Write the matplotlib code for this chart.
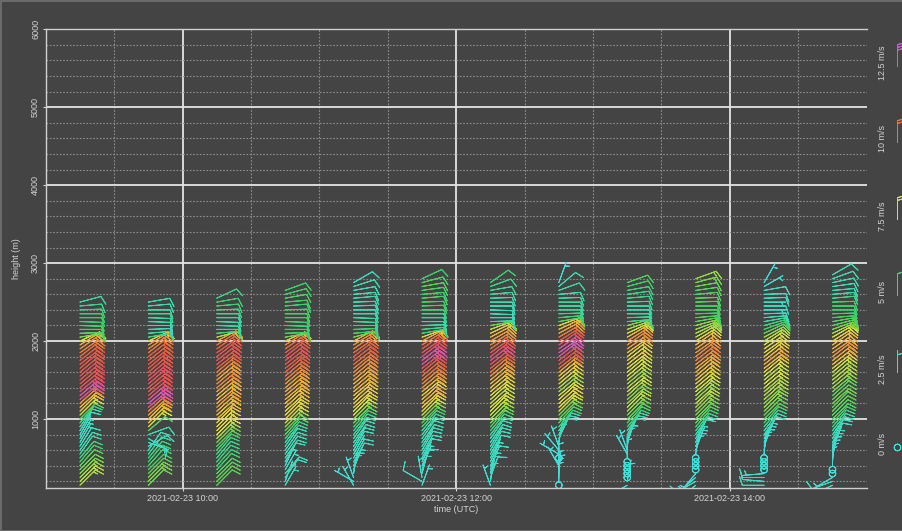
import datetime as dt

import matplotlib

matplotlib.use("Agg")
import matplotlib.dates as mdates
import matplotlib.pyplot as plt
import numpy as np
from matplotlib.colors import LinearSegmentedColormap, Normalize
from matplotlib.ticker import MultipleLocator

plt.rcParams["font.family"] = ["Liberation Sans", "DejaVu Sans"]

DAY = dt.datetime(2021, 2, 23)

# range gates (m)
HEIGHTS = [150, 200, 250, 300, 350, 400, 450, 500, 550, 600,
           650, 700, 750, 800, 850, 900, 950, 1000, 1050, 1100,
           1150, 1200, 1250, 1300, 1350, 1400, 1450, 1500, 1550, 1600,
           1650, 1700, 1750, 1800, 1850, 1900, 1950, 2000, 2050, 2100,
           2150, 2200, 2250, 2300, 2350, 2400, 2450, 2500, 2550, 2600,
           2650, 2700, 2750, 2800, 2850]

# profile times (UTC)
TIMES = ["09:15", "09:45", "10:15", "10:45", "11:15", "11:45",
         "12:15", "12:45", "13:15", "13:45", "14:15", "14:45"]

# wind speed (m/s) and direction (deg, from) per profile, bottom gate upward
SPD_0915 = [7.0, 7.2, 6.8, 6.5, 6.2, 6.0, 5.6, 5.2, 4.6, 4.2,
            3.9, 3.6, 3.5, 3.6, 3.9, 4.4, 5.2, 6.0, 7.4, 8.2,
            8.8, 9.5, 11.8, 12.2, 11.6, 11.0, 10.8, 11.0, 11.2, 10.8,
            10.6, 10.8, 10.5, 10.2, 9.8, 9.4, 8.8, 7.6, 6.4, 6.0,
            5.8, 5.8, 5.6, 5.5, 5.4, 5.2, 5.0, 4.6]
DIR_0915 = [45, 45, 45, 45, 45, 42, 40, 40, 35, 35,
            32, 30, 30, 30, 32, 35, 40, 45, 45, 45,
            48, 48, 50, 50, 50, 50, 50, 50, 50, 50,
            50, 52, 52, 52, 55, 55, 58, 65, 80, 88,
            90, 92, 92, 90, 90, 88, 85, 75]

SPD_0945 = [6.2, 6.5, 6.4, 6.0, 5.8, 5.6, 5.4, 5.2, 4.8, 4.2,
            3.8, 3.6, 3.8, 4.4, 6.0, 7.6, 8.4, 8.8, 9.2, 9.8,
            12.0, 12.4, 11.8, 11.2, 11.0, 10.8, 11.2, 11.4, 11.0, 10.6,
            10.8, 10.6, 10.4, 10.4, 10.0, 9.6, 9.2, 8.0, 5.0, 4.6,
            4.4, 4.2, 4.4, 4.6, 4.8, 4.6, 4.4, 4.4]
DIR_0945 = [45, 45, 45, 45, 45, 42, 40, 40, 38, 35,
            60, 110, 120, 70, 50, 45, 45, 45, 48, 48,
            50, 50, 50, 50, 50, 50, 50, 50, 50, 50,
            50, 52, 52, 52, 52, 55, 58, 65, 80, 85,
            88, 90, 92, 92, 90, 90, 85, 80]

SPD_1015 = [6.0, 6.2, 6.0, 5.8, 5.6, 5.4, 5.2, 5.0, 5.2, 5.6,
            6.0, 6.4, 7.0, 7.6, 8.0, 7.8, 8.2, 8.6, 8.4, 8.8,
            9.2, 9.0, 8.6, 8.8, 9.2, 9.6, 9.4, 9.0, 9.4, 10.0,
            10.4, 10.8, 11.0, 10.8, 10.6, 10.4, 10.0, 9.2, 7.0, 5.2,
            4.8, 4.6, 4.4, 4.6, 4.8, 5.0, 5.2, 5.4, 5.0]
DIR_1015 = [45, 45, 45, 45, 42, 42, 40, 40, 40, 42,
            45, 45, 45, 45, 45, 45, 45, 48, 48, 48,
            48, 50, 50, 50, 50, 50, 50, 50, 50, 50,
            52, 52, 52, 52, 55, 55, 58, 62, 75, 85,
            90, 92, 92, 90, 90, 88, 85, 80, 65]

SPD_1045 = [3.6, 3.2, 3.8, 4.0, 3.6, 3.4, 3.8, 4.2, 4.0, 4.2,
            4.4, 4.6, 5.2, 5.8, 6.2, 6.8, 7.6, 8.0, 7.8, 8.2,
            8.6, 8.4, 8.8, 9.0, 8.8, 9.2, 9.4, 9.8, 10.0, 10.4,
            10.6, 10.8, 11.0, 10.8, 10.6, 10.2, 9.6, 8.4, 6.2, 5.6,
            5.4, 5.2, 5.4, 5.6, 5.8, 5.6, 5.4, 5.6, 5.8, 5.6,
            5.4]
DIR_1045 = [30, 20, 35, 40, 30, 25, 30, 35, 35, 35,
            35, 38, 40, 42, 45, 45, 45, 45, 45, 48,
            48, 48, 50, 50, 50, 50, 50, 50, 50, 50,
            52, 52, 52, 52, 55, 55, 58, 65, 80, 88,
            90, 92, 92, 90, 90, 88, 85, 85, 80, 75,
            70]

SPD_1115 = [3.6, 3.0, 2.6, 3.2, 3.6, 3.4, 3.8, 4.0, 3.6, 3.8,
            4.0, 4.2, 4.4, 4.6, 5.0, 5.6, 6.2, 6.6, 7.4, 7.8,
            8.0, 8.4, 8.2, 8.6, 8.8, 9.0, 8.8, 9.2, 9.4, 9.6,
            9.8, 10.2, 10.4, 10.6, 10.2, 9.8, 9.4, 8.8, 6.4, 5.6,
            5.4, 5.0, 4.8, 4.6, 4.4, 4.2, 4.0, 4.2, 4.4, 4.2,
            4.0, 4.2, 3.8]
DIR_1115 = [330, 300, 340, 10, 20, 25, 30, 30, 30, 30,
            32, 35, 35, 38, 40, 42, 45, 45, 45, 45,
            48, 48, 48, 50, 50, 50, 50, 50, 50, 50,
            52, 52, 52, 52, 55, 55, 58, 62, 75, 85,
            88, 90, 92, 92, 90, 90, 88, 88, 85, 85,
            80, 72, 60]

SPD_1145 = [3.4, 3.8, 3.2, 3.6, 3.8, 3.4, 3.6, 3.8, 4.0, 3.8,
            4.0, 4.2, 4.4, 4.2, 4.8, 5.6, 6.0, 6.6, 7.4, 8.0,
            8.4, 8.8, 8.6, 8.2, 8.8, 9.4, 9.6, 10.0, 10.2, 10.6,
            11.4, 12.0, 12.2, 11.6, 11.0, 10.6, 10.0, 9.0, 8.0, 5.4,
            5.0, 4.6, 4.4, 4.6, 4.8, 5.2, 5.4, 5.6, 5.8, 5.6,
            5.8, 6.0, 5.8, 5.4]
DIR_1145 = [20, 300, 350, 15, 20, 25, 25, 28, 30, 30,
            32, 35, 35, 38, 40, 42, 45, 45, 45, 45,
            48, 48, 48, 50, 50, 50, 50, 50, 50, 50,
            52, 52, 52, 52, 55, 55, 58, 62, 70, 80,
            85, 88, 90, 90, 90, 90, 88, 88, 85, 85,
            82, 80, 75, 65]

SPD_1215 = [3.0, 3.4, 3.8, 3.2, 3.6, 3.8, 3.4, 3.6, 3.8, 4.0,
            4.2, 4.0, 4.4, 4.8, 5.2, 5.8, 6.4, 6.8, 7.2, 7.4,
            7.6, 7.2, 7.6, 7.8, 8.0, 8.4, 8.8, 9.0, 9.4, 9.8,
            10.4, 11.2, 11.8, 11.4, 10.8, 10.2, 9.6, 9.2, 8.8, 8.2,
            7.2, 6.0, 4.6, 4.2, 4.0, 3.8, 4.0, 4.2, 4.4, 4.6,
            4.8, 5.0, 5.4]
DIR_1215 = [340, 10, 20, 15, 20, 25, 25, 28, 30, 30,
            32, 35, 35, 38, 40, 42, 45, 45, 45, 45,
            48, 48, 48, 50, 50, 50, 50, 50, 50, 50,
            52, 52, 52, 52, 55, 55, 58, 60, 62, 65,
            70, 80, 88, 90, 92, 92, 90, 90, 88, 85,
            80, 70, 55]

SPD_1245 = [0.6, 2.0, 2.2, 2.0, 2.4, 2.6, 2.2, 0.8, 3.0, 2.8,
            3.2, 3.4, 3.8, 4.0, 4.4, 5.4, 5.8, 6.2, 6.6, 7.4,
            7.8, 8.0, 7.8, 7.4, 6.8, 7.2, 7.8, 8.2, 8.4, 9.2,
            10.2, 10.8, 11.2, 12.0, 12.4, 12.0, 11.2, 10.6, 9.8, 9.0,
            8.6, 8.0, 6.0, 5.2, 5.0, 4.8, 4.6, 4.8, 4.6, 4.4,
            4.6, 4.4, 3.0]
DIR_1245 = [0, 0, 0, 5, 0, 330, 0, 0, 300, 320,
            340, 10, 25, 30, 35, 40, 42, 45, 45, 45,
            48, 48, 48, 50, 50, 50, 50, 50, 50, 50,
            52, 52, 52, 52, 55, 55, 55, 58, 60, 62,
            65, 70, 80, 85, 88, 90, 90, 90, 88, 85,
            70, 50, 20]

SPD_1315 = [3.2, 2.0, 0.8, 0.6, 0.8, 0.6, 0.8, 2.2, 2.8, 3.0,
            3.4, 3.6, 3.8, 4.2, 4.6, 5.4, 5.8, 6.0, 6.4, 6.8,
            7.2, 6.8, 6.6, 7.0, 7.4, 7.0, 6.8, 7.2, 7.6, 7.4,
            7.8, 8.2, 7.8, 8.0, 8.6, 9.2, 9.6, 9.4, 8.6, 7.6,
            7.0, 6.4, 5.0, 4.8, 4.6, 4.4, 4.6, 4.8, 5.0, 5.0,
            5.2, 5.6, 5.8]
DIR_1315 = [240, 10, 0, 0, 0, 0, 0, 0, 330, 340,
            10, 20, 25, 30, 35, 40, 42, 45, 45, 45,
            45, 48, 48, 48, 50, 50, 50, 50, 50, 50,
            52, 52, 52, 52, 55, 55, 55, 58, 60, 65,
            70, 75, 85, 88, 90, 90, 90, 88, 85, 82,
            80, 75, 70]

SPD_1345 = [3.4, 3.8, 3.0, 2.6, 0.8, 0.6, 0.8, 0.6, 2.2, 2.8,
            3.2, 3.6, 4.0, 4.4, 5.0, 5.6, 6.0, 6.2, 6.4, 6.8,
            7.0, 7.2, 6.8, 7.0, 7.4, 7.6, 8.0, 8.4, 8.6, 8.8,
            9.0, 9.4, 9.8, 9.6, 9.4, 9.0, 8.6, 7.8, 7.2, 7.0,
            6.8, 6.6, 6.0, 5.8, 5.6, 5.8, 5.6, 5.8, 6.0, 5.8,
            6.0, 6.2, 6.4, 6.8]
DIR_1345 = [230, 240, 230, 220, 0, 0, 0, 0, 10, 20,
            25, 25, 30, 35, 38, 40, 42, 45, 45, 45,
            45, 48, 48, 48, 50, 50, 50, 50, 50, 50,
            52, 52, 52, 52, 55, 55, 55, 58, 60, 65,
            70, 75, 80, 85, 88, 90, 90, 88, 88, 85,
            82, 80, 75, 70]

SPD_1415 = [4.0, 3.8, 4.2, 3.4, 0.8, 0.6, 0.8, 0.6, 2.2, 2.4,
            2.8, 3.2, 3.6, 4.0, 4.4, 5.0, 5.6, 6.0, 6.2, 6.4,
            6.8, 6.6, 7.0, 7.2, 7.0, 7.4, 7.6, 7.2, 7.6, 8.0,
            8.6, 9.0, 8.6, 8.2, 8.0, 7.8, 7.6, 7.2, 6.8, 6.0,
            5.6, 5.2, 4.6, 4.2, 3.8, 3.6, 3.8, 3.6, 3.8, 4.0,
            3.8, 3.4, 2.6]
DIR_1415 = [270, 275, 270, 265, 0, 0, 0, 0, 5, 10,
            20, 25, 30, 35, 38, 40, 42, 45, 45, 45,
            45, 48, 48, 48, 50, 50, 50, 50, 50, 50,
            52, 52, 52, 52, 55, 55, 55, 58, 62, 65,
            70, 75, 80, 85, 88, 90, 90, 90, 88, 88,
            80, 60, 30]

SPD_1445 = [3.6, 4.0, 3.2, 0.8, 0.6, 2.2, 2.4, 2.6, 3.0, 3.4,
            3.6, 3.8, 4.0, 4.2, 4.6, 5.2, 5.6, 5.8, 6.0, 6.2,
            6.0, 6.4, 6.2, 6.0, 6.4, 6.8, 7.0, 7.2, 7.0, 7.4,
            8.0, 8.6, 9.0, 9.4, 9.2, 8.8, 8.6, 8.0, 7.6, 7.0,
            6.4, 6.0, 5.8, 5.6, 5.6, 5.4, 5.6, 5.4, 5.0, 4.6,
            4.4, 4.2, 4.4, 4.2, 4.2]
DIR_1445 = [245, 250, 240, 0, 0, 0, 5, 10, 15, 20,
            25, 28, 30, 35, 38, 40, 42, 45, 45, 45,
            45, 48, 48, 48, 50, 50, 50, 50, 50, 50,
            52, 52, 52, 52, 55, 55, 55, 58, 60, 65,
            70, 75, 80, 85, 88, 90, 90, 88, 85, 85,
            85, 82, 78, 70, 60]

SPEEDS = [SPD_0915, SPD_0945, SPD_1015, SPD_1045, SPD_1115, SPD_1145,
          SPD_1215, SPD_1245, SPD_1315, SPD_1345, SPD_1415, SPD_1445]
DIRS = [DIR_0915, DIR_0945, DIR_1015, DIR_1045, DIR_1115, DIR_1145,
        DIR_1215, DIR_1245, DIR_1315, DIR_1345, DIR_1415, DIR_1445]

LEGEND_SPEEDS = [12.5, 10, 7.5, 5, 2.5, 0]
LEGEND_LABELS = ["12.5 m/s", "10 m/s", "7.5 m/s", "5 m/s", "2.5 m/s", "0 m/s"]

bg, fg = "#444444", "#d4d4d4"
cmap = LinearSegmentedColormap.from_list("wind", [
    (0.0, "#40e0dc"), (3.0 / 12.5, "#40dcd6"), (4.5 / 12.5, "#3cd8a8"),
    (5.5 / 12.5, "#38d068"), (6.5 / 12.5, "#78d448"), (7.5 / 12.5, "#d4e040"),
    (8.5 / 12.5, "#ecc03a"), (9.5 / 12.5, "#ec8c38"), (10.5 / 12.5, "#e85a3c"),
    (11.5 / 12.5, "#e84c60"), (1.0, "#d858c8")])
norm = Normalize(0, 12.5)
# barb polygons are scaled by length/2 again, so 5.6 gives a ~22 px staff
barb_kw = dict(cmap=cmap, norm=norm, length=5.6, linewidth=0.7,
               barb_increments=dict(half=2.5, full=5, flag=25),
               sizes=dict(emptybarb=0.15), pivot="tip")

xs, hs, us, vs, cs = [], [], [], [], []
for t, spd, wdir in zip(TIMES, SPEEDS, DIRS):
    hh, mm = map(int, t.split(":"))
    x = mdates.date2num(DAY.replace(hour=hh, minute=mm))
    s = np.array(spd)
    d = np.deg2rad(np.array(wdir))
    xs += [x] * len(s)
    hs += HEIGHTS[:len(s)]
    us += list(-s * np.sin(d))
    vs += list(-s * np.cos(d))
    cs += list(s)

fig = plt.figure(figsize=(9.03, 5.31), dpi=100)
fig.patch.set_facecolor(bg)
fig.patch.set_edgecolor("#6a6a6a")
fig.patch.set_linewidth(2)
ax = fig.add_axes([45.7 / 903, 1 - 488 / 531, (866.7 - 45.7) / 903,
                   (488 - 29.3) / 531])
ax.set_facecolor(bg)
ax.set_axisbelow(True)

ax.barbs(xs, hs, us, vs, cs, zorder=3, **barb_kw)

ax.set_xlim(mdates.date2num(DAY.replace(hour=9)),
            mdates.date2num(DAY.replace(hour=15)))
ax.set_ylim(115, 6000)
ax.xaxis.set_major_locator(mdates.HourLocator(byhour=[10, 12, 14]))
ax.xaxis.set_minor_locator(mdates.MinuteLocator(byminute=[0, 30]))
ax.xaxis.set_major_formatter(mdates.DateFormatter("%Y-%m-%d %H:%M"))
ax.yaxis.set_major_locator(MultipleLocator(1000))
ax.yaxis.set_minor_locator(MultipleLocator(200))

ax.grid(which="major", color="#e4e4e4", linewidth=1.3, linestyle="-")
ax.grid(which="minor", color="#8e8e8e", linewidth=0.8,
        linestyle=(0, (1.5, 1.5)))
ax.tick_params(which="major", length=2.5, width=0.8, color=fg, labelcolor=fg,
               labelsize=6.5, pad=1.5)
ax.tick_params(which="minor", length=0)
plt.setp(ax.get_yticklabels(), rotation=90, va="center")
for side in ("left", "bottom", "top"):
    ax.spines[side].set_color("#cfcfcf")
    ax.spines[side].set_linewidth(1.0)
ax.spines["right"].set_visible(False)

ax.set_xlabel("time (UTC)", color=fg, fontsize=6.5, labelpad=2)
ax.set_ylabel("height (m)", color=fg, fontsize=6.5, labelpad=7)

# speed legend on the right edge
lg = fig.add_axes([0, 0, 1, 1], facecolor="none")
lg.set_xlim(0, 903)
lg.set_ylim(531, 0)
lg.axis("off")
leg_y = [66, 142, 219, 295, 372, 447]
for spd, lab, y in zip(LEGEND_SPEEDS, LEGEND_LABELS, leg_y):
    lg.barbs([897], [y], [0], [-spd], [spd], **barb_kw)
    lg.text(883, y - 3, lab, color=fg, fontsize=6.5, rotation=90,
            ha="center", va="center")

fig.savefig("out.png", dpi=100, facecolor=bg, edgecolor="#6a6a6a")
